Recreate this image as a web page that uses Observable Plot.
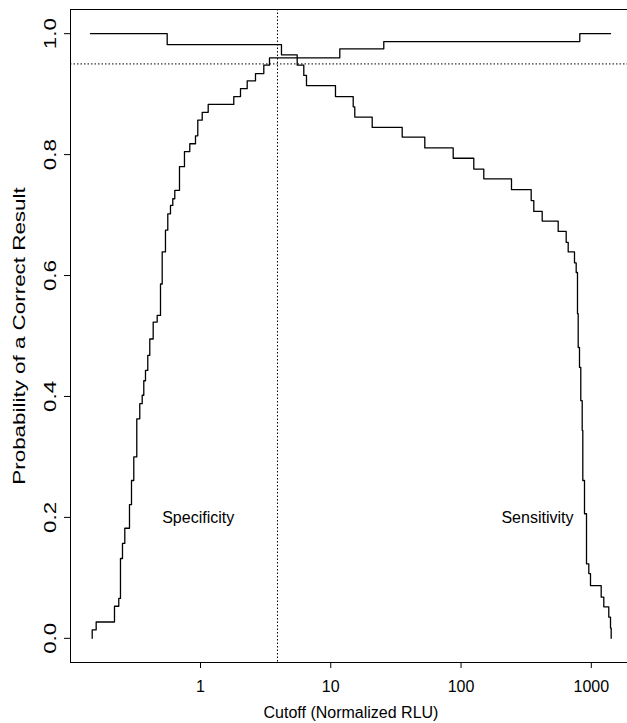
<!DOCTYPE html>
<html><head><meta charset="utf-8">
<script src="https://cdn.jsdelivr.net/npm/d3@7"></script>
<script src="https://cdn.jsdelivr.net/npm/@observablehq/plot@0.6"></script>
<style>
html,body{margin:0;padding:0;background:#fff;overflow:hidden}
#chart{width:627px;height:723px;overflow:hidden}
</style></head><body><div id="chart"></div>
<script>
// Specificity (rising step curve): cutoff, probability after step
const specX = [0.1475,0.1475,0.1582,0.2187,0.2359,0.2431,0.2519,0.2624,0.2851,0.2954,0.3076,0.3243,0.3420,0.3569,0.3671,0.3783,0.3939,0.4081,0.4334,0.4652,0.4932,0.5082,0.5385,0.5610,0.5884,0.6128,0.6349,0.6899,0.7534,0.8277,0.9155,0.9534,1.031,1.146,1.801,2.028,2.283,2.644,3.062,3.386,11.73,25.53,815.9,1404];
const specY = [0.000,0.014,0.027,0.053,0.066,0.132,0.157,0.182,0.221,0.261,0.300,0.363,0.388,0.402,0.426,0.443,0.468,0.495,0.523,0.534,0.586,0.639,0.675,0.702,0.716,0.727,0.741,0.780,0.805,0.818,0.831,0.857,0.870,0.883,0.896,0.909,0.922,0.934,0.948,0.960,0.975,0.987,1.000,1.000];
// Sensitivity (falling step curve)
const sensX = [0.1431,0.5551,4.185,5.525,6.209,6.512,10.87,14.87,15.29,20.80,35.35,52.71,87.06,125.3,149.5,244.0,345.6,361.9,419.8,556.9,641.6,664.7,743.0,765.6,783.4,793.2,811.7,830.5,851.4,860.5,886.7,918.7,956.7,985.8,1191,1247,1362,1404,1421];
const sensY = [1.000,0.982,0.965,0.948,0.931,0.914,0.896,0.879,0.862,0.845,0.829,0.811,0.794,0.776,0.760,0.742,0.724,0.706,0.690,0.673,0.655,0.639,0.621,0.605,0.537,0.481,0.448,0.393,0.344,0.261,0.206,0.123,0.107,0.087,0.068,0.052,0.035,0.017,0.000];
const cutoffLine = [3.9];
const targetLine = [0.95];
const xTicks = [1, 10, 100, 1000];
const yTicks = [0, 0.2, 0.4, 0.6, 0.8, 1.0];
const noteText = ["Specificity", "Sensitivity"];
const noteX = [0.96, 386];
const noteY = [0.2, 0.2];

const spec = specX.map((x, i) => ({x, y: specY[i]}));
const sens = sensX.map((x, i) => ({x, y: sensY[i]}));
const notes = noteText.map((t, i) => ({t, x: noteX[i], y: noteY[i]}));

const font = "'Liberation Sans', Arial, Helvetica, sans-serif";
const plot = Plot.plot({
  width: 640, height: 723,
  marginLeft: 70, marginRight: 9, marginTop: 9, marginBottom: 61,
  style: {fontFamily: font, fontSize: "16px", color: "#000", background: "#fff", maxWidth: "none"},
  x: {type: "log", domain: [0.1005, 2035]},
  y: {domain: [-0.04, 1.04]},
  marks: [
    Plot.frame({stroke: "#000", strokeWidth: 1}),
    Plot.axisX({ticks: xTicks, tickFormat: d => String(d), tickSize: 6, tickPadding: 12,
      label: "Cutoff (Normalized RLU)", labelAnchor: "center", labelOffset: 55, labelArrow: "none", fontSize: 16}),
    Plot.axisY({ticks: yTicks, tickFormat: d3.format(".1f"), tickSize: 6, tickPadding: 9, tickRotate: -90,
      label: "Probability of a Correct Result", labelAnchor: "center", labelOffset: 57, labelArrow: "none", fontSize: 16}),
    Plot.ruleX(cutoffLine, {stroke: "#000", strokeWidth: 1, strokeDasharray: "1.5,2"}),
    Plot.ruleY(targetLine, {stroke: "#000", strokeWidth: 1, strokeDasharray: "1.5,2"}),
    Plot.line(spec, {x: "x", y: "y", curve: "step-after", stroke: "#000", strokeWidth: 1.3}),
    Plot.line(sens, {x: "x", y: "y", curve: "step-after", stroke: "#000", strokeWidth: 1.3}),
    Plot.text(notes, {x: "x", y: "y", text: "t", fontSize: 16, lineAnchor: "middle", fill: "#000"})
  ]
});
plot.querySelectorAll('g[aria-label="y-axis tick label"] text, g[aria-label="y-axis label"] text').forEach(t => {
  const tr = t.getAttribute("transform");
  if (tr) t.setAttribute("transform", tr + " scale(1.4,1)");
});
document.getElementById("chart").appendChild(plot);
</script></body></html>
